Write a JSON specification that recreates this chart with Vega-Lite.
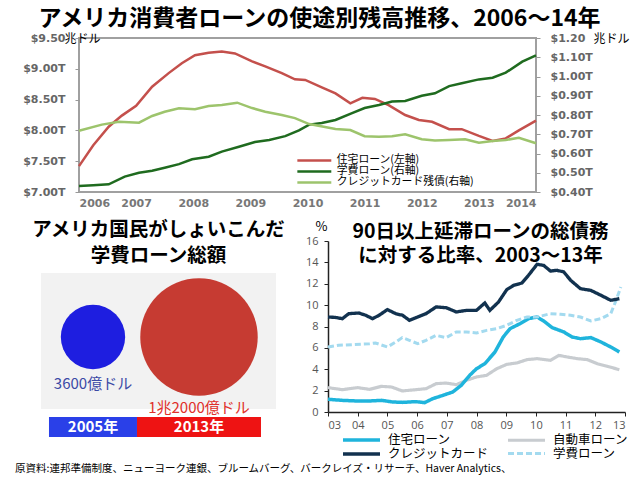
{
  "$schema": "https://vega.github.io/schema/vega-lite/v6.json",
  "background": "white",
  "padding": {"left": 15, "top": 7, "right": 0, "bottom": 0},
  "config": {
    "view": {"stroke": null},
    "font": "Noto Sans CJK JP",
    "title": {"font": "Noto Sans CJK JP", "fontWeight": "bold", "color": "black"},
    "axis": {"grid": false}
  },
  "title": {
    "text": "原資料:連邦準備制度、ニューヨーク連銀、ブルームバーグ、バークレイズ・リサーチ、Haver Analytics、",
    "orient": "bottom", "anchor": "start", "fontSize": 10.5, "fontWeight": "normal", "offset": 3
  },
  "resolve": {"scale": {"color": "independent", "strokeDash": "independent", "strokeWidth": "independent", "size": "independent"}, "legend": {"color": "independent", "strokeDash": "independent", "strokeWidth": "independent", "size": "independent"}},
  "datasets": {
    "top": [
      {"t": 2006.0, "v": 7.42, "s": "住宅ローン(左軸)"},
      {"t": 2006.25, "v": 7.76, "s": "住宅ローン(左軸)"},
      {"t": 2006.52, "v": 8.06, "s": "住宅ローン(左軸)"},
      {"t": 2006.75, "v": 8.24, "s": "住宅ローン(左軸)"},
      {"t": 2007.0, "v": 8.4, "s": "住宅ローン(左軸)"},
      {"t": 2007.28, "v": 8.71, "s": "住宅ローン(左軸)"},
      {"t": 2007.57, "v": 8.93, "s": "住宅ローン(左軸)"},
      {"t": 2007.8, "v": 9.09, "s": "住宅ローン(左軸)"},
      {"t": 2008.03, "v": 9.22, "s": "住宅ローン(左軸)"},
      {"t": 2008.27, "v": 9.26, "s": "住宅ローン(左軸)"},
      {"t": 2008.5, "v": 9.28, "s": "住宅ローン(左軸)"},
      {"t": 2008.73, "v": 9.25, "s": "住宅ローン(左軸)"},
      {"t": 2009.03, "v": 9.12, "s": "住宅ローン(左軸)"},
      {"t": 2009.26, "v": 9.04, "s": "住宅ローン(左軸)"},
      {"t": 2009.55, "v": 8.93, "s": "住宅ローン(左軸)"},
      {"t": 2009.78, "v": 8.83, "s": "住宅ローン(左軸)"},
      {"t": 2009.96, "v": 8.82, "s": "住宅ローン(左軸)"},
      {"t": 2010.25, "v": 8.7, "s": "住宅ローン(左軸)"},
      {"t": 2010.49, "v": 8.6, "s": "住宅ローン(左軸)"},
      {"t": 2010.75, "v": 8.44, "s": "住宅ローン(左軸)"},
      {"t": 2010.96, "v": 8.53, "s": "住宅ローン(左軸)"},
      {"t": 2011.18, "v": 8.51, "s": "住宅ローン(左軸)"},
      {"t": 2011.42, "v": 8.41, "s": "住宅ローン(左軸)"},
      {"t": 2011.71, "v": 8.25, "s": "住宅ローン(左軸)"},
      {"t": 2011.95, "v": 8.17, "s": "住宅ローン(左軸)"},
      {"t": 2012.18, "v": 8.14, "s": "住宅ローン(左軸)"},
      {"t": 2012.48, "v": 8.02, "s": "住宅ローン(左軸)"},
      {"t": 2012.7, "v": 8.02, "s": "住宅ローン(左軸)"},
      {"t": 2013.0, "v": 7.91, "s": "住宅ローン(左軸)"},
      {"t": 2013.24, "v": 7.83, "s": "住宅ローン(左軸)"},
      {"t": 2013.47, "v": 7.87, "s": "住宅ローン(左軸)"},
      {"t": 2013.7, "v": 8.0, "s": "住宅ローン(左軸)"},
      {"t": 2014.0, "v": 8.16, "s": "住宅ローン(左軸)"},
      {"t": 2006.0, "v": 0.431, "s": "学費ローン(右軸)"},
      {"t": 2006.25, "v": 0.435, "s": "学費ローン(右軸)"},
      {"t": 2006.52, "v": 0.44, "s": "学費ローン(右軸)"},
      {"t": 2006.8, "v": 0.48, "s": "学費ローン(右軸)"},
      {"t": 2007.05, "v": 0.5, "s": "学費ローン(右軸)"},
      {"t": 2007.28, "v": 0.51, "s": "学費ローン(右軸)"},
      {"t": 2007.5, "v": 0.526, "s": "学費ローン(右軸)"},
      {"t": 2007.75, "v": 0.545, "s": "学費ローン(右軸)"},
      {"t": 2007.98, "v": 0.57, "s": "学費ローン(右軸)"},
      {"t": 2008.27, "v": 0.583, "s": "学費ローン(右軸)"},
      {"t": 2008.5, "v": 0.61, "s": "学費ローン(右軸)"},
      {"t": 2008.8, "v": 0.635, "s": "学費ローン(右軸)"},
      {"t": 2009.08, "v": 0.66, "s": "学費ローン(右軸)"},
      {"t": 2009.33, "v": 0.67, "s": "学費ローン(右軸)"},
      {"t": 2009.61, "v": 0.69, "s": "学費ローン(右軸)"},
      {"t": 2009.85, "v": 0.72, "s": "学費ローン(右軸)"},
      {"t": 2010.03, "v": 0.75, "s": "学費ローン(右軸)"},
      {"t": 2010.25, "v": 0.758, "s": "学費ローン(右軸)"},
      {"t": 2010.49, "v": 0.774, "s": "学費ローン(右軸)"},
      {"t": 2010.78, "v": 0.81, "s": "学費ローン(右軸)"},
      {"t": 2011.0, "v": 0.836, "s": "学費ローン(右軸)"},
      {"t": 2011.25, "v": 0.852, "s": "学費ローン(右軸)"},
      {"t": 2011.48, "v": 0.87, "s": "学費ローン(右軸)"},
      {"t": 2011.71, "v": 0.873, "s": "学費ローン(右軸)"},
      {"t": 2012.0, "v": 0.9, "s": "学費ローン(右軸)"},
      {"t": 2012.23, "v": 0.913, "s": "学費ローン(右軸)"},
      {"t": 2012.48, "v": 0.95, "s": "学費ローン(右軸)"},
      {"t": 2012.7, "v": 0.965, "s": "学費ローン(右軸)"},
      {"t": 2013.0, "v": 0.985, "s": "学費ローン(右軸)"},
      {"t": 2013.24, "v": 0.994, "s": "学費ローン(右軸)"},
      {"t": 2013.47, "v": 1.02, "s": "学費ローン(右軸)"},
      {"t": 2013.76, "v": 1.077, "s": "学費ローン(右軸)"},
      {"t": 2014.0, "v": 1.11, "s": "学費ローン(右軸)"},
      {"t": 2006.0, "v": 0.718, "s": "クレジットカード残債(右軸)"},
      {"t": 2006.4, "v": 0.75, "s": "クレジットカード残債(右軸)"},
      {"t": 2006.7, "v": 0.765, "s": "クレジットカード残債(右軸)"},
      {"t": 2007.05, "v": 0.76, "s": "クレジットカード残債(右軸)"},
      {"t": 2007.28, "v": 0.795, "s": "クレジットカード残債(右軸)"},
      {"t": 2007.5, "v": 0.817, "s": "クレジットカード残債(右軸)"},
      {"t": 2007.75, "v": 0.835, "s": "クレジットカード残債(右軸)"},
      {"t": 2008.03, "v": 0.83, "s": "クレジットカード残債(右軸)"},
      {"t": 2008.27, "v": 0.847, "s": "クレジットカード残債(右軸)"},
      {"t": 2008.5, "v": 0.852, "s": "クレジットカード残債(右軸)"},
      {"t": 2008.77, "v": 0.864, "s": "クレジットカード残債(右軸)"},
      {"t": 2009.03, "v": 0.836, "s": "クレジットカード残債(右軸)"},
      {"t": 2009.26, "v": 0.817, "s": "クレジットカード残債(右軸)"},
      {"t": 2009.55, "v": 0.8, "s": "クレジットカード残債(右軸)"},
      {"t": 2009.78, "v": 0.784, "s": "クレジットカード残債(右軸)"},
      {"t": 2010.03, "v": 0.753, "s": "クレジットカード残債(右軸)"},
      {"t": 2010.26, "v": 0.74, "s": "クレジットカード残債(右軸)"},
      {"t": 2010.49, "v": 0.727, "s": "クレジットカード残債(右軸)"},
      {"t": 2010.75, "v": 0.722, "s": "クレジットカード残債(右軸)"},
      {"t": 2011.0, "v": 0.69, "s": "クレジットカード残債(右軸)"},
      {"t": 2011.25, "v": 0.687, "s": "クレジットカード残債(右軸)"},
      {"t": 2011.48, "v": 0.69, "s": "クレジットカード残債(右軸)"},
      {"t": 2011.71, "v": 0.7, "s": "クレジットカード残債(右軸)"},
      {"t": 2012.0, "v": 0.674, "s": "クレジットカード残債(右軸)"},
      {"t": 2012.23, "v": 0.667, "s": "クレジットカード残債(右軸)"},
      {"t": 2012.48, "v": 0.67, "s": "クレジットカード残債(右軸)"},
      {"t": 2012.76, "v": 0.674, "s": "クレジットカード残債(右軸)"},
      {"t": 2013.0, "v": 0.656, "s": "クレジットカード残債(右軸)"},
      {"t": 2013.24, "v": 0.665, "s": "クレジットカード残債(右軸)"},
      {"t": 2013.47, "v": 0.67, "s": "クレジットカード残債(右軸)"},
      {"t": 2013.7, "v": 0.682, "s": "クレジットカード残債(右軸)"},
      {"t": 2014.0, "v": 0.653, "s": "クレジットカード残債(右軸)"}
    ],
    "student": [
      {"year": "2005年", "value": 360, "label": "3600億ドル"},
      {"year": "2013年", "value": 1200, "label": "1兆2000億ドル"}
    ],
    "delinq": [
      {"t": 2003.0, "v": 2.28, "s": "自動車ローン"},
      {"t": 2003.48, "v": 2.09, "s": "自動車ローン"},
      {"t": 2004.0, "v": 2.28, "s": "自動車ローン"},
      {"t": 2004.4, "v": 2.12, "s": "自動車ローン"},
      {"t": 2004.8, "v": 2.4, "s": "自動車ローン"},
      {"t": 2005.14, "v": 2.34, "s": "自動車ローン"},
      {"t": 2005.5, "v": 1.97, "s": "自動車ローン"},
      {"t": 2005.96, "v": 2.09, "s": "自動車ローン"},
      {"t": 2006.3, "v": 2.18, "s": "自動車ローン"},
      {"t": 2006.64, "v": 2.65, "s": "自動車ローン"},
      {"t": 2006.98, "v": 2.71, "s": "自動車ローン"},
      {"t": 2007.32, "v": 2.56, "s": "自動車ローン"},
      {"t": 2007.66, "v": 2.96, "s": "自動車ローン"},
      {"t": 2008.0, "v": 3.28, "s": "自動車ローン"},
      {"t": 2008.34, "v": 3.43, "s": "自動車ローン"},
      {"t": 2008.68, "v": 4.05, "s": "自動車ローン"},
      {"t": 2009.02, "v": 4.46, "s": "自動車ローン"},
      {"t": 2009.36, "v": 4.59, "s": "自動車ローン"},
      {"t": 2009.7, "v": 4.9, "s": "自動車ローン"},
      {"t": 2010.04, "v": 4.99, "s": "自動車ローン"},
      {"t": 2010.49, "v": 4.83, "s": "自動車ローン"},
      {"t": 2010.77, "v": 5.3, "s": "自動車ローン"},
      {"t": 2011.05, "v": 5.15, "s": "自動車ローン"},
      {"t": 2011.4, "v": 4.99, "s": "自動車ローン"},
      {"t": 2011.73, "v": 4.9, "s": "自動車ローン"},
      {"t": 2012.07, "v": 4.52, "s": "自動車ローン"},
      {"t": 2012.41, "v": 4.27, "s": "自動車ローン"},
      {"t": 2012.81, "v": 3.96, "s": "自動車ローン"},
      {"t": 2003.0, "v": 1.19, "s": "住宅ローン"},
      {"t": 2003.48, "v": 1.09, "s": "住宅ローン"},
      {"t": 2004.0, "v": 1.03, "s": "住宅ローン"},
      {"t": 2004.4, "v": 1.03, "s": "住宅ローン"},
      {"t": 2004.8, "v": 1.09, "s": "住宅ローン"},
      {"t": 2005.17, "v": 0.94, "s": "住宅ローン"},
      {"t": 2005.5, "v": 0.9, "s": "住宅ローン"},
      {"t": 2005.96, "v": 0.97, "s": "住宅ローン"},
      {"t": 2006.25, "v": 0.87, "s": "住宅ローン"},
      {"t": 2006.53, "v": 1.25, "s": "住宅ローン"},
      {"t": 2006.87, "v": 1.56, "s": "住宅ローン"},
      {"t": 2007.2, "v": 1.87, "s": "住宅ローン"},
      {"t": 2007.49, "v": 2.5, "s": "住宅ローン"},
      {"t": 2007.77, "v": 3.43, "s": "住宅ローン"},
      {"t": 2008.0, "v": 4.05, "s": "住宅ローン"},
      {"t": 2008.28, "v": 4.52, "s": "住宅ローン"},
      {"t": 2008.62, "v": 5.61, "s": "住宅ローン"},
      {"t": 2008.9, "v": 7.02, "s": "住宅ローン"},
      {"t": 2009.13, "v": 7.8, "s": "住宅ローン"},
      {"t": 2009.47, "v": 8.27, "s": "住宅ローン"},
      {"t": 2009.75, "v": 8.73, "s": "住宅ローン"},
      {"t": 2010.04, "v": 8.89, "s": "住宅ローン"},
      {"t": 2010.26, "v": 8.52, "s": "住宅ローン"},
      {"t": 2010.55, "v": 7.89, "s": "住宅ローン"},
      {"t": 2010.94, "v": 7.49, "s": "住宅ローン"},
      {"t": 2011.22, "v": 7.02, "s": "住宅ローン"},
      {"t": 2011.5, "v": 6.86, "s": "住宅ローン"},
      {"t": 2011.85, "v": 6.96, "s": "住宅ローン"},
      {"t": 2012.19, "v": 6.55, "s": "住宅ローン"},
      {"t": 2012.52, "v": 6.08, "s": "住宅ローン"},
      {"t": 2012.81, "v": 5.61, "s": "住宅ローン"},
      {"t": 2003.0, "v": 6.08, "s": "学費ローン"},
      {"t": 2003.36, "v": 6.24, "s": "学費ローン"},
      {"t": 2003.8, "v": 6.3, "s": "学費ローン"},
      {"t": 2004.4, "v": 6.39, "s": "学費ローン"},
      {"t": 2004.6, "v": 6.46, "s": "学費ローン"},
      {"t": 2005.0, "v": 6.08, "s": "学費ローン"},
      {"t": 2005.28, "v": 6.55, "s": "学費ローン"},
      {"t": 2005.5, "v": 6.96, "s": "学費ローン"},
      {"t": 2005.74, "v": 6.71, "s": "学費ローン"},
      {"t": 2006.02, "v": 6.39, "s": "学費ローン"},
      {"t": 2006.3, "v": 6.71, "s": "学費ローン"},
      {"t": 2006.64, "v": 7.17, "s": "学費ローン"},
      {"t": 2006.98, "v": 6.96, "s": "学費ローン"},
      {"t": 2007.32, "v": 7.49, "s": "学費ローン"},
      {"t": 2007.66, "v": 7.49, "s": "学費ローン"},
      {"t": 2008.0, "v": 7.39, "s": "学費ローン"},
      {"t": 2008.34, "v": 7.64, "s": "学費ローン"},
      {"t": 2008.68, "v": 7.8, "s": "学費ローン"},
      {"t": 2009.02, "v": 8.11, "s": "学費ローン"},
      {"t": 2009.36, "v": 8.58, "s": "学費ローン"},
      {"t": 2009.7, "v": 8.89, "s": "学費ローン"},
      {"t": 2010.04, "v": 8.89, "s": "学費ローン"},
      {"t": 2010.49, "v": 9.2, "s": "学費ローン"},
      {"t": 2010.83, "v": 9.14, "s": "学費ローン"},
      {"t": 2011.17, "v": 9.05, "s": "学費ローン"},
      {"t": 2011.5, "v": 8.89, "s": "学費ローン"},
      {"t": 2011.85, "v": 8.52, "s": "学費ローン"},
      {"t": 2012.19, "v": 8.73, "s": "学費ローン"},
      {"t": 2012.52, "v": 9.2, "s": "学費ローン"},
      {"t": 2012.7, "v": 10.45, "s": "学費ローン"},
      {"t": 2012.86, "v": 11.7, "s": "学費ローン"},
      {"t": 2003.0, "v": 8.89, "s": "クレジットカード"},
      {"t": 2003.25, "v": 8.85, "s": "クレジットカード"},
      {"t": 2003.48, "v": 8.73, "s": "クレジットカード"},
      {"t": 2003.7, "v": 9.2, "s": "クレジットカード"},
      {"t": 2004.04, "v": 9.26, "s": "クレジットカード"},
      {"t": 2004.27, "v": 9.05, "s": "クレジットカード"},
      {"t": 2004.5, "v": 8.73, "s": "クレジットカード"},
      {"t": 2004.72, "v": 9.05, "s": "クレジットカード"},
      {"t": 2005.0, "v": 9.58, "s": "クレジットカード"},
      {"t": 2005.28, "v": 9.2, "s": "クレジットカード"},
      {"t": 2005.51, "v": 9.05, "s": "クレジットカード"},
      {"t": 2005.74, "v": 8.58, "s": "クレジットカード"},
      {"t": 2006.02, "v": 8.89, "s": "クレジットカード"},
      {"t": 2006.3, "v": 9.2, "s": "クレジットカード"},
      {"t": 2006.64, "v": 9.83, "s": "クレジットカード"},
      {"t": 2006.98, "v": 9.76, "s": "クレジットカード"},
      {"t": 2007.32, "v": 9.36, "s": "クレジットカード"},
      {"t": 2007.66, "v": 9.51, "s": "クレジットカード"},
      {"t": 2008.0, "v": 9.51, "s": "クレジットカード"},
      {"t": 2008.28, "v": 10.2, "s": "クレジットカード"},
      {"t": 2008.45, "v": 9.51, "s": "クレジットカード"},
      {"t": 2008.74, "v": 10.29, "s": "クレジットカード"},
      {"t": 2009.02, "v": 11.45, "s": "クレジットカード"},
      {"t": 2009.25, "v": 11.85, "s": "クレジットカード"},
      {"t": 2009.53, "v": 12.07, "s": "クレジットカード"},
      {"t": 2009.75, "v": 12.79, "s": "クレジットカード"},
      {"t": 2010.04, "v": 13.82, "s": "クレジットカード"},
      {"t": 2010.26, "v": 13.72, "s": "クレジットカード"},
      {"t": 2010.49, "v": 13.19, "s": "クレジットカード"},
      {"t": 2010.71, "v": 13.26, "s": "クレジットカード"},
      {"t": 2010.94, "v": 13.1, "s": "クレジットカード"},
      {"t": 2011.17, "v": 12.32, "s": "クレジットカード"},
      {"t": 2011.5, "v": 11.54, "s": "クレジットカード"},
      {"t": 2011.85, "v": 11.38, "s": "クレジットカード"},
      {"t": 2012.19, "v": 10.92, "s": "クレジットカード"},
      {"t": 2012.52, "v": 10.45, "s": "クレジットカード"},
      {"t": 2012.81, "v": 10.6, "s": "クレジットカード"}
    ]
  },
  "spacing": 11,
  "vconcat": [
    {
      "spacing": 5,
      "hconcat": [
        {"width": 1, "height": 1, "data": {"values": []}, "mark": "point", "encoding": {}},
        {
          "width": 457,
          "height": 154,
          "title": {"text": "アメリカ消費者ローンの使途別残高推移、2006〜14年", "fontSize": 23, "anchor": "middle", "offset": 1, "dx": 12},
          "view": {"stroke": "#a0a0a0", "strokeWidth": 2},
          "data": {"name": "top"},
          "encoding": {
            "x": {"field": "t", "type": "quantitative", "scale": {"domain": [2006, 2014], "nice": false, "zero": false},
              "axis": {"values": [2006, 2007, 2008, 2009, 2010, 2011, 2012, 2013, 2014], "format": "d", "title": null, "domain": false, "ticks": false, "labelPadding": 5, "labelFont": "DejaVu Sans", "labelFontWeight": "bold", "labelFontSize": 11, "labelColor": "#777"}}
          },
          "layer": [
            {
              "transform": [{"filter": "datum.s == '住宅ローン(左軸)'"}],
              "mark": {"type": "line", "strokeWidth": 2.5},
              "encoding": {
                "y": {"field": "v", "type": "quantitative", "scale": {"domain": [7, 9.5], "nice": false, "zero": false},
                  "axis": {"orient": "left", "values": [7, 7.5, 8, 8.5, 9, 9.5], "labelExpr": "datum.value == 9.5 ? '$9.50\u00a0\u00a0' : '$' + format(datum.value, '.2f') + 'T'", "labelFont": "DejaVu Sans", "labelFontWeight": "bold", "labelFontSize": 11, "labelColor": "#666", "domain": false, "tickColor": "#999", "tickSize": 4, "labelPadding": 10, "title": "兆ドル", "titleAngle": 0, "titleX": 3, "titleY": 0, "titleAlign": "center", "titleBaseline": "middle", "titleFontSize": 12, "titleFontWeight": "normal", "titleColor": "black", "titleFont": "Noto Sans CJK JP"}},
                "color": {"field": "s", "type": "nominal", "scale": {"domain": ["住宅ローン(左軸)", "学費ローン(右軸)", "クレジットカード残債(右軸)"], "range": ["#c4504c", "#1f6b1f", "#9dc46c"]},
                  "legend": {"orient": "none", "legendX": 306, "legendY": 117, "title": null, "symbolType": "M-8.3,0H1.4", "symbolSize": 49, "symbolStrokeWidth": 2.5, "labelFontSize": 10.8, "labelFont": "Noto Sans CJK JP", "labelColor": "black", "labelOffset": 5, "rowPadding": -5}}
              }
            },
            {
              "transform": [{"filter": "datum.s != '住宅ローン(左軸)'"}],
              "mark": {"type": "line", "strokeWidth": 2.5},
              "encoding": {
                "y": {"field": "v", "type": "quantitative", "scale": {"domain": [0.4, 1.2], "nice": false, "zero": false},
                  "axis": {"orient": "right", "values": [0.4, 0.5, 0.6, 0.7, 0.8, 0.9, 1.0, 1.1, 1.2], "labelExpr": "abs(datum.value - 1.2) < 0.001 ? '$1.20' : '$' + format(datum.value, '.2f') + 'T'", "labelFont": "DejaVu Sans", "labelFontWeight": "bold", "labelFontSize": 11, "labelColor": "#666", "domain": false, "tickColor": "#999", "tickSize": 4, "labelPadding": 10, "title": "兆ドル", "titleAngle": 0, "titleX": 75, "titleY": 0, "titleAlign": "center", "titleBaseline": "middle", "titleFontSize": 12, "titleFontWeight": "normal", "titleColor": "black", "titleFont": "Noto Sans CJK JP"}},
                "color": {"field": "s", "type": "nominal"}
              }
            }
          ],
          "resolve": {"scale": {"y": "independent"}}
        }
      ]
    },
    {
      "spacing": 15,
      "resolve": {"scale": {"color": "independent", "strokeDash": "independent", "strokeWidth": "independent", "size": "independent"}, "legend": {"color": "independent", "strokeDash": "independent", "strokeWidth": "independent", "size": "independent"}},
      "hconcat": [
        {"width": 1, "height": 1, "data": {"values": []}, "mark": "point", "encoding": {}},
        {
          "spacing": 19,
          "resolve": {"scale": {"color": "independent", "strokeDash": "independent", "strokeWidth": "independent", "size": "independent"}, "legend": {"color": "independent", "strokeDash": "independent", "strokeWidth": "independent", "size": "independent"}},
          "hconcat": [
            {
              "spacing": 7,
              "resolve": {"scale": {"color": "independent", "size": "independent"}},
              "vconcat": [
                {
                  "width": 235,
                  "height": 4,
                  "data": {"values": [{}]},
                  "mark": {"type": "text", "text": ["アメリカ国民がしょいこんだ", "学費ローン総額"], "lineHeight": 26, "fontSize": 19.5, "fontWeight": "bold", "color": "black", "align": "center", "baseline": "middle", "dy": -13},
                  "encoding": {}
                },
                {
                  "spacing": 1,
                  "resolve": {"scale": {"color": "independent", "size": "independent"}},
                  "vconcat": [
                    {
                      "width": 235,
                      "height": 136,
                      "view": {"fill": "#f2f2f2", "stroke": null},
                      "data": {"name": "student"},
                      "encoding": {
                        "x": {"field": "year", "type": "nominal", "scale": {"type": "point", "domain": ["2005年", "2013年"], "padding": 0.6085, "align": 0.403}, "axis": null}
                      },
                      "layer": [
                        {
                          "mark": {"type": "circle", "opacity": 1, "yOffset": -4},
                          "encoding": {
                            "size": {"field": "value", "type": "quantitative", "scale": {"domain": [0, 1200], "range": [0, 13800]}, "legend": null},
                            "color": {"field": "year", "type": "nominal", "scale": {"domain": ["2005年", "2013年"], "range": ["#1e1ee0", "#c63b32"]}, "legend": null}
                          }
                        },
                        {
                          "transform": [{"filter": "datum.year == '2005年'"}],
                          "mark": {"type": "text", "dy": 43, "fontSize": 15, "color": "#3c4aa6"},
                          "encoding": {"text": {"field": "label"}}
                        },
                        {
                          "transform": [{"filter": "datum.year == '2013年'"}],
                          "mark": {"type": "text", "dy": 67, "fontSize": 15, "color": "#e0302a"},
                          "encoding": {"text": {"field": "label"}}
                        }
                      ]
                    },
                    {
                      "width": 235,
                      "height": 20,
                      "data": {"name": "student"},
                      "encoding": {
                        "x": {"field": "year", "type": "nominal", "scale": {"type": "point", "domain": ["2005年", "2013年"], "padding": 0.6085, "align": 0.403}, "axis": null}
                      },
                      "layer": [
                        {"transform": [{"filter": "datum.year == '2005年'"}], "mark": {"type": "bar", "width": 88, "color": "#2a40e8"}},
                        {"transform": [{"filter": "datum.year == '2013年'"}], "mark": {"type": "bar", "width": 124, "color": "#ee1313"}},
                        {"mark": {"type": "text", "color": "white", "fontSize": 15, "fontWeight": "bold"}, "encoding": {"text": {"field": "year"}}}
                      ]
                    }
                  ]
                }
              ]
            },
            {
              "width": 297,
              "height": 171,
              "title": {"text": ["90日以上延滞ローンの総債務", "に対する比率、2003〜13年"], "fontSize": 19.5, "lineHeight": 24, "offset": -46, "frame": "group", "dx": 4},
              "data": {"name": "delinq"},
              "mark": {"type": "line"},
              "encoding": {
                "x": {"field": "t", "type": "quantitative", "scale": {"domain": [2003, 2013], "nice": false, "zero": false},
                  "axis": {"values": [2003, 2004, 2005, 2006, 2007, 2008, 2009, 2010, 2011, 2012, 2013], "labelExpr": "substring(toString(datum.value), 2, 4)", "title": null, "domainColor": "#222", "domainWidth": 1.5, "tickColor": "#222", "tickSize": 4, "labelColor": "#555", "labelFontSize": 11, "labelFont": "Open Sans", "labelPadding": 3}},
                "y": {"field": "v", "type": "quantitative", "scale": {"domain": [0, 16], "nice": false},
                  "axis": {"values": [0, 2, 4, 6, 8, 10, 12, 14, 16], "domainColor": "#222", "domainWidth": 1.5, "tickColor": "#222", "tickSize": 4, "labelColor": "#555", "labelFontSize": 11, "labelFont": "Open Sans", "labelPadding": 6, "title": "%", "titleAngle": 0, "titleX": -7, "titleY": -15, "titleAlign": "center", "titleBaseline": "middle", "titleFontSize": 13, "titleFontWeight": "normal", "titleColor": "black"}},
                "color": {"field": "s", "type": "nominal", "scale": {"domain": ["住宅ローン", "クレジットカード", "自動車ローン", "学費ローン"], "range": ["#1fb4dc", "#12324f", "#c8ccd0", "#a3daef"]},
                  "legend": {"orient": "none", "legendX": 40, "legendY": 192, "columns": 2, "title": null, "symbolType": "M-6.4,0H1", "symbolSize": 100, "labelFontSize": 12.5, "labelFont": "Noto Sans CJK JP", "labelColor": "black", "labelOffset": 6, "columnPadding": 12, "rowPadding": -1}},
                "strokeDash": {"field": "s", "type": "nominal", "scale": {"domain": ["住宅ローン", "クレジットカード", "自動車ローン", "学費ローン"], "range": [[1, 0], [1, 0], [1, 0], [6, 3]]}},
                "strokeWidth": {"field": "s", "type": "nominal", "scale": {"domain": ["住宅ローン", "クレジットカード", "自動車ローン", "学費ローン"], "range": [3.5, 3, 3, 2.5]}}
              }
            }
          ]
        }
      ]
    }
  ]
}
